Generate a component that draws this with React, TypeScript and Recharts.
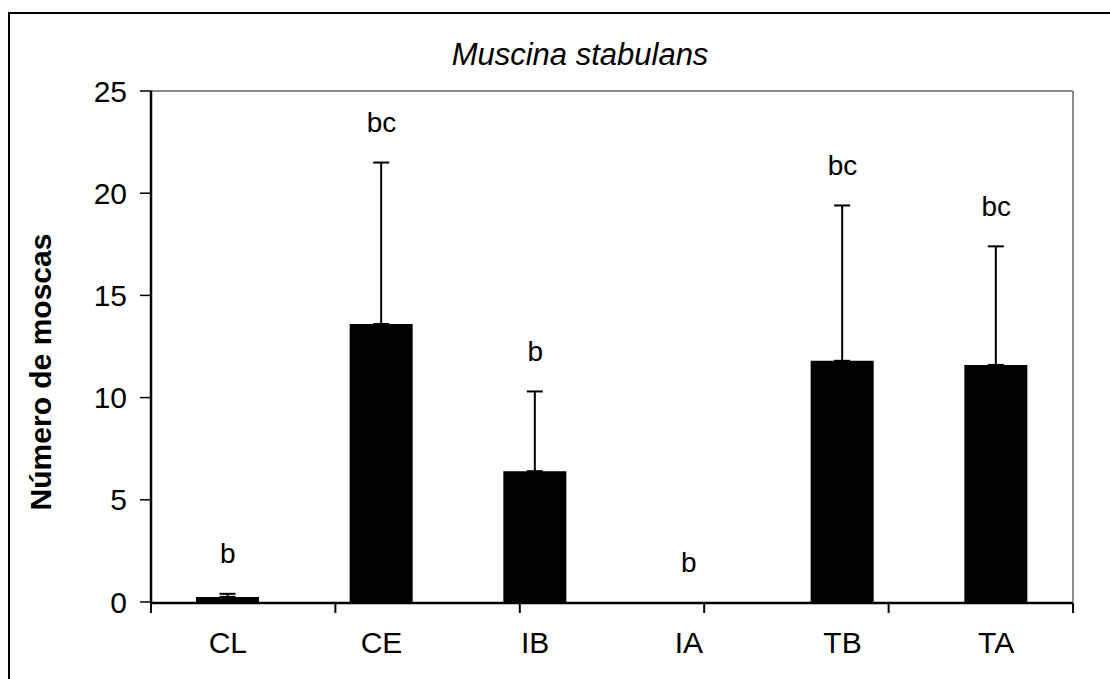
import React from "react";
import {
  ComposedChart,
  Bar,
  Line,
  XAxis,
  YAxis,
  ErrorBar,
  LabelList,
  ReferenceLine,
  Label,
} from "recharts";

// values
const categories = ["CL", "CE", "IB", "IA", "TB", "TA"];
const means = [0.25, 13.6, 6.4, 0, 11.8, 11.6];
const sds = [0.15, 7.9, 3.9, 0, 7.6, 5.8];
const letters = ["b", "bc", "b", "b", "bc", "bc"];
const yTicks = [0, 5, 10, 15, 20, 25];
const boundaryTicks = [0, 1, 2, 3, 4, 5, 6];

const rows = categories.map((cat, i) => ({
  cat,
  mean: means[i],
  err: [0, sds[i]],
  top: means[i] + sds[i],
  letter: letters[i],
}));

const FONT = "'Liberation Sans', Arial, sans-serif";

const renderLetter = (props: any) => {
  const { x, y, value } = props;
  return (
    <text
      x={x}
      y={y - 40}
      textAnchor="middle"
      dominantBaseline="central"
      fontFamily={FONT}
      fontSize={28}
      fill="#000"
    >
      {value}
    </text>
  );
};

export default function App() {
  return (
    <div
      style={{
        position: "fixed",
        left: 0,
        top: 0,
        width: 1110,
        height: 679,
        overflow: "hidden",
        background: "#fff",
      }}
    >
      <div
        style={{
          position: "absolute",
          left: 8,
          top: 12,
          width: 1200,
          height: 800,
          border: "2.5px solid #000",
        }}
      />
      <div
        style={{
          position: "absolute",
          left: 0,
          width: 1160,
          top: 36,
          textAlign: "center",
          fontFamily: FONT,
          fontStyle: "italic",
          fontSize: 31,
          lineHeight: "38px",
        }}
      >
        Muscina stabulans
      </div>
      <div style={{ position: "absolute", left: 0, top: 0 }}>
        <ComposedChart
          width={1110}
          height={679}
          data={rows}
          margin={{ top: 91, right: 36, bottom: 75, left: 0 }}
        >
          <XAxis
            xAxisId="bounds"
            type="number"
            domain={[0, 6]}
            ticks={boundaryTicks}
            height={1}
            axisLine={{ stroke: "#000", strokeWidth: 2.5 }}
            tickLine={{ stroke: "#000", strokeWidth: 2 }}
            tickSize={10}
            tickFormatter={() => ""}
          />
          <XAxis
            dataKey="cat"
            height={1}
            axisLine={false}
            tickLine={false}
            tickSize={10}
            tickMargin={20}
            interval={0}
            tick={{ fontSize: 30, fill: "#000", fontFamily: FONT }}
          />
          <YAxis
            width={151}
            domain={[0, 25]}
            ticks={yTicks}
            allowDataOverflow
            axisLine={{ stroke: "#000", strokeWidth: 2.5 }}
            tickLine={{ stroke: "#000", strokeWidth: 1.5 }}
            tickSize={11}
            tickMargin={13}
            tick={{ fontSize: 30, fill: "#000", fontFamily: FONT }}
          >
            <Label
              content={() => (
                <text
                  x={40}
                  y={372}
                  transform="rotate(-90 40 372)"
                  textAnchor="middle"
                  dominantBaseline="central"
                  fontFamily={FONT}
                  fontWeight="bold"
                  fontSize={30}
                  fill="#000"
                >
                  Número de moscas
                </text>
              )}
            />
          </YAxis>
          <YAxis
            yAxisId="frame"
            orientation="right"
            width={1}
            domain={[0, 25]}
            tick={false}
            tickLine={false}
            axisLine={{ stroke: "#8c8c8c", strokeWidth: 2 }}
          />
          <ReferenceLine y={25} stroke="#8c8c8c" strokeWidth={2} />
          <Bar
            dataKey="mean"
            fill="#000"
            barSize={63}
            isAnimationActive={false}
          >
            <ErrorBar
              dataKey="err"
              direction="y"
              width={8}
              stroke="#000"
              strokeWidth={2}
            />
          </Bar>
          <Line
            dataKey="top"
            stroke="none"
            dot={false}
            activeDot={false}
            legendType="none"
            isAnimationActive={false}
          >
            <LabelList dataKey="letter" content={renderLetter} />
          </Line>
        </ComposedChart>
      </div>
    </div>
  );
}
